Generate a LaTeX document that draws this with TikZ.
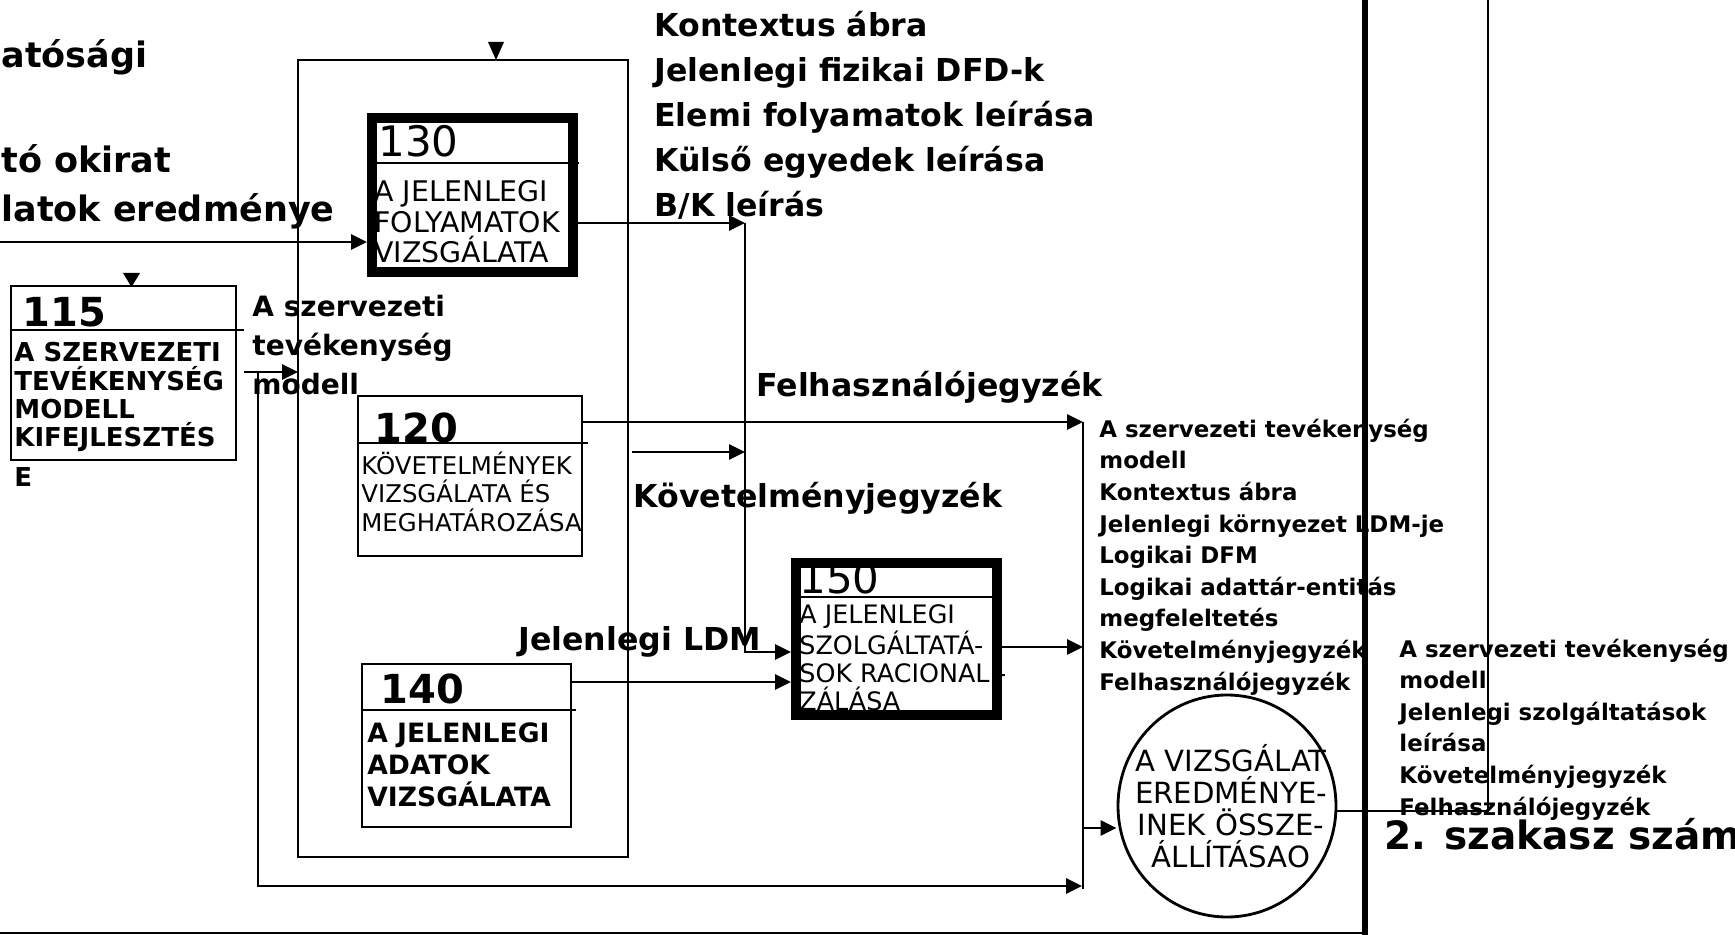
\documentclass[tikz,border=0pt]{standalone}
\usepackage{fontspec}
\setmainfont{DejaVu Sans}
\usetikzlibrary{arrows.meta,positioning,shapes.geometric}

\tikzset{
  procbox/.style={draw,line width=1.4pt,inner sep=0pt},
  heavybox/.style={draw,line width=5pt,inner sep=0pt},
  numtxt/.style={anchor=base west,inner sep=0pt,font=\fontsize{21}{21}\selectfont},
  boxtxt/.style={anchor=base west,inner sep=0pt,align=left},
  flowlbl/.style={anchor=base west,inner sep=0pt,align=left,font=\bfseries\fontsize{15.8}{22.5}\selectfont},
  listlbl/.style={anchor=base west,inner sep=0pt,align=left,font=\bfseries\fontsize{11.45}{15.8}\selectfont},
}

\begin{document}
\begin{tikzpicture}[x=0.5pt,y=-0.5pt,>={Triangle[length=8pt,width=7.5pt]},line width=1.4pt]
\useasboundingbox (0,0) rectangle (1735,935);
\clip (0,0) rectangle (1735,935);

% labels cut at the left edge
\node[flowlbl,font=\bfseries\fontsize{17.5}{17.5}\selectfont] (in1) at (0,68) {atósági};
\node[flowlbl,font=\bfseries\fontsize{17.5}{17.5}\selectfont] (in2) at (0,173) {tó okirat};
\node[flowlbl,font=\bfseries\fontsize{17.5}{17.5}\selectfont] (in3) at (0,222) {latok eredménye};

% processes
\node[procbox,minimum width=112.5pt,minimum height=87pt] (p115) at (123.5,373) {};
\node[procbox,minimum width=112pt,minimum height=80pt] (p120) at (470,476) {};
\node[heavybox,minimum width=100.5pt,minimum height=77pt] (p130) at (472.5,195) {};
\node[procbox,minimum width=104.5pt,minimum height=81.5pt] (p140) at (466.5,745.5) {};
\node[heavybox,minimum width=100.5pt,minimum height=76pt] (p150) at (896.5,639) {};
\node[draw,ellipse,minimum width=109pt,minimum height=111pt,inner sep=0pt] (p200) at (1227,806) {};

\draw (p115.west |- 0,330) -- (244,330);
\draw (p120.west |- 0,443) -- (588,443);
\draw (p130.west |- 0,163) -- (579,163);
\draw (p140.west |- 0,710) -- (576,710);
\draw (p150.west |- 0,597) -- (1002,597);

\node[numtxt,font=\bfseries\fontsize{20}{20}\selectfont] (n115) at (21,327) {115};
\node[numtxt,font=\bfseries\fontsize{20}{20}\selectfont] (n120) at (373,443) {120};
\node[numtxt] (n130) at (377,157) {130};
\node[numtxt,font=\bfseries\fontsize{20}{20}\selectfont] (n140) at (379,703) {140};
\node[numtxt] (n150) at (798,593) {150};

% multi-line texts sit on the baseline of their last line
\node[boxtxt,font=\bfseries\fontsize{13}{14.2}\selectfont] (t115) at (13,487) {A SZERVEZETI\\TEVÉKENYSÉG\\MODELL\\KIFEJLESZTÉS\\[5.8pt]E};
\node[boxtxt,font=\fontsize{12.2}{14.25}\selectfont] (t120) at (360,531) {KÖVETELMÉNYEK\\VIZSGÁLATA ÉS\\MEGHATÁROZÁSA};
\node[boxtxt,font=\fontsize{14.2}{15.25}\selectfont] (t130) at (373,263) {A JELENLEGI\\FOLYAMATOK\\VIZSGÁLATA};
\node[boxtxt,font=\bfseries\fontsize{13.3}{16}\selectfont] (t140) at (366,806) {A JELENLEGI\\ADATOK\\VIZSGÁLATA};
\node[boxtxt,font=\fontsize{12.7}{14}\selectfont] (t150) at (798,710) {A JELENLEGI\\SZOLGÁLTATÁ-\\SOK RACIONALI-\\ZÁLÁSA};
\node[inner sep=0pt,align=center,font=\fontsize{14.6}{16}\selectfont] (t200) at (1231,806) {A VIZSGÁLAT\\EREDMÉNYE-\\INEK ÖSSZE-\\ÁLLÍTÁSAO};

% frame round 120-140
\draw (298,60) rectangle (628,857);
\fill (488,42) -- (504,42) -- (496,60) -- cycle;
\fill (123,273) -- (140,273) -- (131.5,287) -- cycle;

% flow labels
\node[flowlbl] (o130) at (653,217) {Kontextus ábra\\Jelenlegi fizikai DFD-k\\Elemi folyamatok leírása\\Külső egyedek leírása\\B/K leírás};
\node[flowlbl] (o120a) at (755,397) {Felhasználójegyzék};
\node[flowlbl] (o120b) at (632,508) {Követelményjegyzék};
\node[flowlbl] (o140) at (517,650) {Jelenlegi LDM};
\node[flowlbl,font=\bfseries\fontsize{14}{19.5}\selectfont] (o115) at (251,395) {A szervezeti\\tevékenység\\modell};
\node[listlbl] (o150) at (1098,690) {A szervezeti tevékenység\\modell\\Kontextus ábra\\Jelenlegi környezet LDM-je\\Logikai DFM\\Logikai adattár-entitás\\megfeleltetés\\Követelményjegyzék\\Felhasználójegyzék};
\node[listlbl] (o200) at (1398,815) {A szervezeti tevékenység\\modell\\Jelenlegi szolgáltatások\\leírása\\Követelményjegyzék\\Felhasználójegyzék};
\node[flowlbl,font=\bfseries\fontsize{19.5}{19.5}\selectfont] (st2) at (1383,849) {2. szakasz szám};

% connectors
\coordinate (a130) at (0,242);
\coordinate (a115) at (244,372);
\coordinate (f115) at (298,372);
\coordinate (j115) at (258,372);
\coordinate (b200) at (1082,886);
\coordinate (br1) at (1083,422);
\coordinate (br2) at (1083,889);
\coordinate (v1) at (745,223);
\coordinate (v2) at (745,652);
\coordinate (k120) at (632,452);
\coordinate (t1) at (1488,811);
\coordinate (t0) at (1488,0);

\draw[->] (a130) -- (p130.west |- a130);
\draw[->] (a115) -- (f115);
\draw[->] (j115) |- (b200);
\draw (br1) -- (br2);
\draw[->] (p120.east |- br1) -- (br1);
\draw[->] (p130.east |- v1) -- (v1);
\draw[->] (v1) -- (v2) -- (p150.west |- v2);
\draw[->] (k120) -- (v1 |- k120);
\draw[->] (p140.east |- 0,682) -- (p150.west |- 0,682);
\draw[->] (p150.east |- 0,647) -- (br1 |- 0,647);
\draw[->] (br1 |- 0,828) -- (p200.west |- 0,828);
\draw[line width=1.2pt] (p200.east |- t1) -- (t1) -- (t0);

% phase borders
\draw[line width=2.6pt] (1365,0) -- (1365,935);
\draw (0,933) -- (1365,933);
\end{tikzpicture}
\end{document}
